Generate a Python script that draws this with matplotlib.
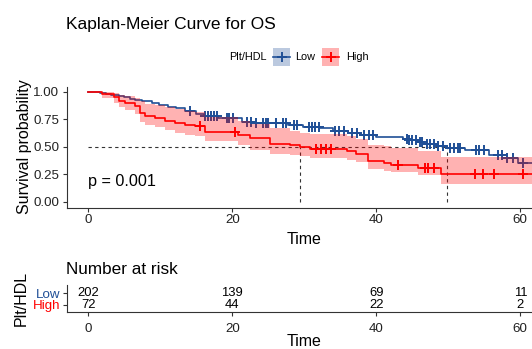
import numpy as np
import matplotlib
matplotlib.use("Agg")
import matplotlib.pyplot as plt
from matplotlib.patches import Rectangle
from matplotlib.lines import Line2D

plt.rcParams['font.family'] = ['Liberation Sans', 'DejaVu Sans']

# ---------------- data ----------------
groups = ["Low", "High"]
legend_title = "Plt/HDL"

low_t = [0, 1.6, 2.4, 3.2, 4.2, 5.0, 5.8, 6.5, 7.5, 8.8, 9.8, 11.1, 12.2, 13.4, 15.0, 16.0,
         18.0, 21.3, 23.0, 27.8, 29.8, 32.2, 34.0, 36.1, 37.7, 40.0, 43.7, 44.5, 45.6, 46.6,
         48.4, 49.8, 52.3, 55.6, 58.1, 59.7]
low_s = [1.0, 0.99, 0.98, 0.97, 0.96, 0.95, 0.94, 0.93, 0.915, 0.90, 0.885, 0.865, 0.85, 0.825,
         0.80, 0.78, 0.765, 0.73, 0.715, 0.70, 0.685, 0.67, 0.645, 0.625, 0.61, 0.59, 0.575,
         0.56, 0.545, 0.53, 0.505, 0.49, 0.473, 0.43, 0.40, 0.357]
low_cens = [14.1, 16.2, 16.6, 17.0, 17.4, 17.9, 19.2, 19.6, 20.1, 22.0, 22.6, 23.3, 24.2, 24.7,
            25.0, 26.0, 27.0, 27.5, 28.5, 29.0, 30.6, 31.0, 31.5, 32.0, 34.3, 34.8, 35.5, 36.6,
            37.3, 38.3, 39.0, 39.5, 44.2, 44.6, 45.0, 45.5, 46.0, 46.4, 47.0, 47.5, 48.0, 48.6,
            49.2, 50.3, 50.8, 51.4, 51.6, 53.9, 54.3, 55.0, 56.9, 57.4, 58.1, 59.0, 60.4]

high_t = [0, 1.85, 3.5, 4.2, 5.1, 6.5, 7.2, 7.9, 9.3, 10.6, 12.0, 13.4, 14.8, 16.2, 20.8,
          22.5, 25.2, 28.0, 29.4, 30.8, 35.9, 37.2, 38.8, 41.0, 42.1, 45.8, 49.0]
high_s = [1.0, 0.98, 0.95, 0.915, 0.90, 0.87, 0.81, 0.78, 0.764, 0.74, 0.72, 0.70, 0.69, 0.64,
          0.61, 0.58, 0.53, 0.515, 0.497, 0.48, 0.465, 0.44, 0.37, 0.35, 0.34, 0.31, 0.25]
high_up = [1.0, 1.0, 0.99, 0.97, 0.96, 0.945, 0.915, 0.895, 0.88, 0.86, 0.845, 0.83, 0.815,
           0.77, 0.74, 0.71, 0.67, 0.645, 0.63, 0.615, 0.60, 0.575, 0.52, 0.505, 0.495, 0.465, 0.41]
high_lo = [1.0, 0.945, 0.90, 0.86, 0.84, 0.80, 0.73, 0.70, 0.68, 0.655, 0.63, 0.61, 0.60, 0.55,
           0.52, 0.47, 0.44, 0.43, 0.415, 0.40, 0.385, 0.36, 0.30, 0.285, 0.275, 0.245, 0.16]
high_cens = [15.5, 20.4, 31.6, 32.3, 33.0, 33.7, 43.0, 46.7, 47.2, 48.0, 53.7, 54.8, 56.3, 60.4]

pval_text = "p = 0.001"
risk_times = [0, 20, 40, 60]
low_risk = [202, 139, 69, 11]
high_risk = [72, 44, 22, 2]

x_ticks = [0, 20, 40, 60]
y_ticks = [0.0, 0.25, 0.5, 0.75, 1.0]
y_ticklabels = ["0.00", "0.25", "0.50", "0.75", "1.00"]

# ---------------- style ----------------
BLUE = "#1F4F96"
RED = "#FF0000"
W, H = 532, 349
XMIN, XMAX = -3.0, 61.625
TEND = 63.0

fig = plt.figure(figsize=(W / 100, H / 100), dpi=100)


def fx(px):
    return px / W


def fy(py):
    return 1 - py / H


# ---------------- main panel ----------------
ax = fig.add_axes([fx(66.7), fy(207.7), fx(W) - fx(66.7), (207.7 - 86.5) / H])
ax.set_xlim(XMIN, XMAX)
ax.set_ylim(-0.052, 1.05)


def step_val(ts, ss, t):
    i = np.searchsorted(ts, t, side="right") - 1
    return np.asarray(ss)[i]


lt = np.array(low_t + [TEND])
ls = np.array(low_s + [low_s[-1]])
ht = np.array(high_t + [TEND])
hs = np.array(high_s + [high_s[-1]])
hu = np.array(high_up + [high_up[-1]])
hl = np.array(high_lo + [high_lo[-1]])

# blue line
ax.step(lt, ls, where="post", color=BLUE, lw=1.2, zorder=2)
ax.plot(low_cens, [step_val(low_t, low_s, c) for c in low_cens], ls="none",
        marker="+", ms=7, mew=1.4, color=BLUE, zorder=2)
# red band (over the blue line)
ax.fill_between(ht, hl, hu, step="post", color=RED, alpha=0.3, lw=0, zorder=3)
ax.step(ht, hs, where="post", color=RED, lw=1.2, zorder=4)
ax.plot(high_cens, [step_val(high_t, high_s, c) for c in high_cens], ls="none",
        marker="+", ms=7, mew=1.4, color=RED, zorder=4)

# median lines
med_low = low_t[int(np.argmax(np.array(low_s) <= 0.5))]
med_high = high_t[int(np.argmax(np.array(high_s) <= 0.5))]
ax.plot([0, max(med_low, med_high)], [0.5, 0.5], ls=(0, (3, 3)), color="#333333", lw=0.8, zorder=1)
for m in (med_low, med_high):
    ax.plot([m, m], [0, 0.5], ls=(0, (3, 3)), color="#333333", lw=0.8, zorder=1)

ax.text(0, 0.185, pval_text, ha="left", va="center", fontsize=11.6, color="black")

for s in ["top", "right"]:
    ax.spines[s].set_visible(False)
for s in ["left", "bottom"]:
    ax.spines[s].set_color("#333333")
    ax.spines[s].set_linewidth(0.8)
ax.set_xticks(x_ticks)
ax.set_yticks(y_ticks)
ax.set_yticklabels(y_ticklabels)
ax.tick_params(axis="both", length=3, width=0.8, color="#333333", labelsize=9.6,
               labelcolor="#222222")
ax.tick_params(axis="x", pad=1.5)
ax.tick_params(axis="y", pad=2.4)

fig.text(fx(25), fy(147), "Survival probability", rotation=90, ha="center", va="center",
         fontsize=11.5)
fig.text(fx(304.3), fy(240), "Time", ha="center", va="center", fontsize=11.5)

# title
fig.text(fx(66), fy(24), "Kaplan-Meier Curve for OS", ha="left", va="center", fontsize=12.5)

# legend (drawn manually to mimic ggplot layout)
fig.text(fx(229.3), fy(57.5), legend_title, ha="left", va="center", fontsize=7.8)
for (x0, x1, col, lab, tx) in [(273.3, 290.0, BLUE, groups[0], 295.0),
                               (321.7, 339.3, RED, groups[1], 345.7)]:
    fig.add_artist(Rectangle((fx(x0), fy(65.7)), fx(x1) - fx(x0), (65.7 - 47.7) / H,
                             transform=fig.transFigure, facecolor=col, alpha=0.3, lw=0))
    fig.add_artist(Line2D([fx(x0), fx(x1)], [fy(56.7), fy(56.7)], transform=fig.transFigure,
                          color=col, lw=1.2))
    fig.add_artist(Line2D([fx((x0 + x1) / 2)], [fy(56.7)], transform=fig.transFigure,
                          color=col, marker="+", ms=7, mew=1.4, ls="none"))
    fig.text(fx(tx), fy(57.5), lab, ha="left", va="center", fontsize=7.8)

# ---------------- risk table ----------------
rax = fig.add_axes([fx(66.7), fy(312.3), fx(W) - fx(66.7), (312.3 - 285) / H])
rax.set_xlim(XMIN, XMAX)
rax.set_ylim(-0.624, 1.709)
for t, n in zip(risk_times, low_risk):
    rax.text(t, 1, str(n), ha="center", va="center", fontsize=9.4)
for t, n in zip(risk_times, high_risk):
    rax.text(t, 0, str(n), ha="center", va="center", fontsize=9.4)
rax.set_yticks([1, 0])
rax.set_yticklabels(groups)
for lbl, col in zip(rax.get_yticklabels(), [BLUE, RED]):
    lbl.set_color(col)
rax.set_xticks(x_ticks)
for s in ["top", "right"]:
    rax.spines[s].set_visible(False)
for s in ["left", "bottom"]:
    rax.spines[s].set_color("#333333")
    rax.spines[s].set_linewidth(0.8)
rax.tick_params(axis="both", length=3, width=0.8, color="#333333", labelsize=9.6)
rax.tick_params(axis="x", pad=5, labelcolor="#222222")
rax.tick_params(axis="y", pad=1.5)

fig.text(fx(66), fy(269.5), "Number at risk", ha="left", va="center", fontsize=12.3)
fig.text(fx(21.5), fy(298), legend_title, rotation=90, ha="center", va="center", fontsize=11.5)
fig.text(fx(304.3), fy(342), "Time", ha="center", va="center", fontsize=11.5)

fig.savefig("out.png", dpi=100)
